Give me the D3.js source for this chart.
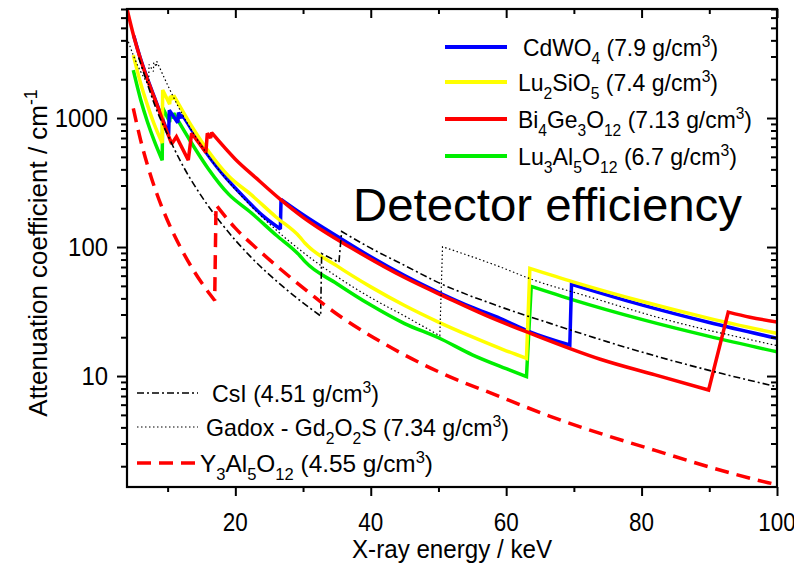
<!DOCTYPE html>
<html><head><meta charset="utf-8">
<script src="https://cdn.jsdelivr.net/npm/d3@7"></script>
<style>
body{margin:0;background:#fff}
svg{display:block}
text{font-family:"Liberation Sans",Arial,Helvetica,sans-serif;fill:#000}
</style>
</head><body>
<svg id="c" width="794" height="571"></svg>
<script>
// ---------- data (energy keV, attenuation coefficient cm^-1) ----------
const cdwo4E  = [5,6,7,8,9,10.15,10.25,11.5,11.6,12.05,12.15,12.8,15,18,21.7,24,26.65,26.75,30,35.5,40,45,50.2,55,59.1,63.5,69.4,69.65,80,90,100];
const cdwo4Mu = [4350,2880,2030,1470,1065,740,1150,920,1100,1000,1060,940,610,375,231,176,138,234,178,117,84,60,44,34,28,22,17.4,51.4,35.6,26,19.6];

const lsoE  = [4.93,6,7,8,9.2,9.27,10.3,10.4,10.85,10.9,13.3,16,19,22.2,26,29.5,30.3,35,40,45,50,55,60,63.0,63.5,70,80,90,100];
const lsoMu = [3076,1870,1270,900,640,1650,1280,1480,1400,1500,910,555,355,258,171,120,107,71.4,49.1,35.2,26.2,20.1,15.7,13.7,68.4,53.5,38,28,21.4];

const bgoE  = [4,5,6,7,8,9,10,10.6,11.3,13.05,13.55,15.65,15.86,16.35,16.5,20,23,26.6,30,33,36.9,45,51.7,57,63.5,73.9,82,89.9,92.8,96,100];
const bgoMu = [7000,4300,2850,2000,1450,1050,760,630,716,472,761,540,761,700,770,480,345,235,170,133,100,58,39.5,29.5,21.5,13.5,10.2,7.8,31.3,28.6,26.2];

const luagE  = [4.93,6,7,8,9.2,9.27,10.3,10.4,10.85,10.9,13.3,16,19,22.2,26,29.5,30.3,35,40,45,50,55,60,63.0,63.7,70,80,90,100];
const luagMu = [2350,1400,940,670,470,1200,930,1075,1000,1090,670,405,257,187,124,86,77,52,35.5,25.5,19.8,14.6,11.4,9.9,49.5,38.8,27.5,20.3,15.4];

const csiE  = [5.72,7,8,10,12,15.27,18,22.17,27,32.6,32.75,35.3,35.7,40,45,50,59.1,66.5,75,85,92,100];
const csiMu = [2950,1850,1300,740,452,236,151,85,49.5,29.2,89,76,132,98,72,53,34.5,25.6,18.4,12.96,10.4,8.26];

const gadoxE  = [4.2,5,6,7.2,7.25,7.9,7.95,8.35,8.4,10.35,11.83,15,18,22.17,26,30,35,40,45,50.2,50.6,59.1,64,71.4,83.7,97.5,100];
const gadoxMu = [3900,3000,2300,1800,2600,2300,2700,2500,2750,1648,1153,608,371,212,136,91,59,40.5,29.2,20.5,100.5,70.2,55.6,42.4,27.3,18.4,17.2];

const yagE  = [4.93,6,7,8.38,10,12,14,16.95,17.15,20,23.4,28.6,35.9,41.9,50,59.1,66.5,75,82,89.9,98.7,100];
const yagMu = [1189,678,436,261,160,97,63.7,38.5,212,140,95,55.5,28,17.9,10.8,6.92,4.87,3.44,2.65,1.98,1.49,1.44];

const xMajorTicks = [20,40,60,80,100];
const xMinorTicks = [10,30,50,70,90];
const yMajorTicks = [10,100,1000];
const yTickLabels = ["10","100","1000"];
const xLabel = "X-ray energy / keV";
const yLabel = "Attenuation coefficient / cm";
const title = "Detector efficiency";

// ---------- layout ----------
const svg = d3.select("#c");
const L = 127, R = 777, T = 9, B = 487;
const x = d3.scaleLinear().domain([4,100]).range([L,R]);
const y = d3.scaleLog().domain([1.38,7000]).range([B,T]);

svg.append("defs").append("clipPath").attr("id","clip")
  .append("rect").attr("x",L).attr("y",T).attr("width",R-L).attr("height",B-T);

const series = [
  {E:luagE, mu:luagMu, color:"#00ee00", w:3.5, dash:null},
  {E:cdwo4E, mu:cdwo4Mu, color:"#0000ff", w:3.5, dash:null},
  {E:lsoE, mu:lsoMu, color:"#ffff00", w:3.5, dash:null},
  {E:bgoE, mu:bgoMu, color:"#ff0000", w:3.5, dash:null},
  {E:csiE, mu:csiMu, color:"#000", w:1.6, dash:"7,3,2,3"},
  {E:gadoxE, mu:gadoxMu, color:"#000", w:1.2, dash:"1.5,2.5"},
  {E:yagE, mu:yagMu, color:"#ff0000", w:3.5, dash:"14,8"}
];

// smooth decreasing runs, straight jumps at absorption edges
const smooth = d3.line().x(d=>x(d[0])).y(d=>y(d[1])).curve(d3.curveMonotoneX);
function edgePath(E, mu){
  const pts = E.map((e,i)=>[e,mu[i]]);
  const runs = [[pts[0]]];
  for(let i=1;i<pts.length;i++){
    if(pts[i][1] > pts[i-1][1]) runs.push([pts[i]]);
    else runs[runs.length-1].push(pts[i]);
  }
  return runs.map((r,i)=>{ const s = smooth(r); return i===0 ? s : "L" + s.slice(1); }).join("");
}

const gLines = svg.append("g").attr("clip-path","url(#clip)");
series.forEach(s=>{
  gLines.append("path")
    .attr("d", edgePath(s.E, s.mu))
    .attr("fill","none").attr("stroke",s.color).attr("stroke-width",s.w)
    .attr("stroke-dasharray",s.dash).attr("stroke-linejoin","miter").attr("stroke-miterlimit",2);
});

// ---------- axes ----------
const yMinor = [];
[1,10,100,1000].forEach(d=>{for(let k=2;k<=9;k++){const v=d*k; if(v>=1.38&&v<=7000) yMinor.push(v);}});

function styleAxis(g){ g.select(".domain").remove(); g.selectAll("line").attr("stroke","#000").attr("stroke-width",2); }

svg.append("g").attr("transform",`translate(0,${B})`)
  .call(d3.axisBottom(x).tickValues(xMajorTicks).tickSize(9).tickFormat(""))
  .call(styleAxis);
xMajorTicks.forEach(v=>{
  svg.append("text").attr("transform",`translate(${x(v)},531) scale(0.88,1)`)
    .attr("text-anchor","middle").attr("font-size",25.5).text(d3.format("d")(v));
});
svg.append("g").attr("transform",`translate(0,${B})`)
  .call(d3.axisBottom(x).tickValues(xMinorTicks).tickSize(5).tickFormat(""))
  .call(styleAxis);
svg.append("g").attr("transform",`translate(0,${T})`)
  .call(d3.axisBottom(x).tickValues(xMajorTicks).tickSize(9).tickFormat(""))
  .call(styleAxis);
svg.append("g").attr("transform",`translate(0,${T})`)
  .call(d3.axisBottom(x).tickValues(xMinorTicks).tickSize(5).tickFormat(""))
  .call(styleAxis);

svg.append("g").attr("transform",`translate(${L},0)`)
  .call(d3.axisLeft(y).tickValues(yMajorTicks).tickSize(10).tickFormat(""))
  .call(styleAxis);
yMajorTicks.forEach((v,i)=>{
  svg.append("text").attr("transform",`translate(108,${y(v)+9}) scale(0.92,1)`)
    .attr("text-anchor","end").attr("font-size",26).text(yTickLabels[i]);
});
svg.append("g").attr("transform",`translate(${L},0)`)
  .call(d3.axisLeft(y).tickValues(yMinor).tickSize(6).tickFormat(""))
  .call(styleAxis);
svg.append("g").attr("transform",`translate(${R},0)`)
  .call(d3.axisLeft(y).tickValues(yMajorTicks).tickSize(10).tickFormat(""))
  .call(styleAxis);
svg.append("g").attr("transform",`translate(${R},0)`)
  .call(d3.axisLeft(y).tickValues(yMinor).tickSize(6).tickFormat(""))
  .call(styleAxis);

svg.append("rect").attr("x",L).attr("y",T).attr("width",R-L).attr("height",B-T)
  .attr("fill","none").attr("stroke","#000").attr("stroke-width",2.2);

// ---------- rich text helper ----------
function rich(parent, px, py, parts, size, opts={}){
  const t = parent.append("text").attr("x",px).attr("y",py).attr("font-size",size);
  if(opts.anchor) t.attr("text-anchor",opts.anchor);
  if(opts.transform) t.attr("transform",opts.transform);
  if(opts.len) t.attr("textLength",opts.len).attr("lengthAdjust","spacingAndGlyphs");
  let off = 0;
  parts.forEach(p=>{
    let txt, kind;
    if(Array.isArray(p)){txt=p[0];kind=p[1];} else {txt=p;kind="n";}
    const target = kind==="sub" ? size*0.32 : kind==="sup" ? -size*0.38 : 0;
    const ts = t.append("tspan").text(txt).attr("dy", target-off);
    if(kind!=="n") ts.attr("font-size", size*0.68);
    off = target;
  });
  return t;
}

// axis titles
rich(svg, 352, 558, [xLabel], 26, {len:200});
rich(svg, 0, 0, [yLabel, ["-1","sup"]], 26, {anchor:"middle", transform:"translate(47,253) rotate(-90)"});

// big title
rich(svg, 353, 221, [title], 47, {len:389});

// ---------- legends ----------
const legTop = [
  {s:series[1], y:47,  x:523, len:195, parts:["CdWO",["4","sub"]," (7.9 g/cm",["3","sup"],")"]},
  {s:series[2], y:82,  x:518, len:200, parts:["Lu",["2","sub"],"SiO",["5","sub"]," (7.4 g/cm",["3","sup"],")"]},
  {s:series[3], y:119, x:518, len:234, parts:["Bi",["4","sub"],"Ge",["3","sub"],"O",["12","sub"]," (7.13 g/cm",["3","sup"],")"]},
  {s:series[0], y:156, x:518, len:219, parts:["Lu",["3","sub"],"Al",["5","sub"],"O",["12","sub"]," (6.7 g/cm",["3","sup"],")"]}
];
legTop.forEach(l=>{
  svg.append("line").attr("x1",445).attr("x2",507).attr("y1",l.y).attr("y2",l.y)
    .attr("stroke",l.s.color).attr("stroke-width",4);
  rich(svg, l.x, l.y+9, l.parts, 24, {len:l.len});
});

const legBot = [
  {s:series[4], y:393, x:212, len:167, parts:["CsI (4.51 g/cm",["3","sup"],")"]},
  {s:series[5], y:427, x:206, len:303, parts:["Gadox - Gd",["2","sub"],"O",["2","sub"],"S (7.34 g/cm",["3","sup"],")"]},
  {s:series[6], y:463, x:200, len:233, parts:["Y",["3","sub"],"Al",["5","sub"],"O",["12","sub"]," (4.55 g/cm",["3","sup"],")"]}
];
legBot.forEach(l=>{
  svg.append("line").attr("x1",137).attr("x2",198).attr("y1",l.y).attr("y2",l.y)
    .attr("stroke",l.s.color).attr("stroke-width",l.s.w).attr("stroke-dasharray",l.s.dash);
  rich(svg, l.x, l.y+9, l.parts, 24, {len:l.len});
});
</script>
</body></html>
